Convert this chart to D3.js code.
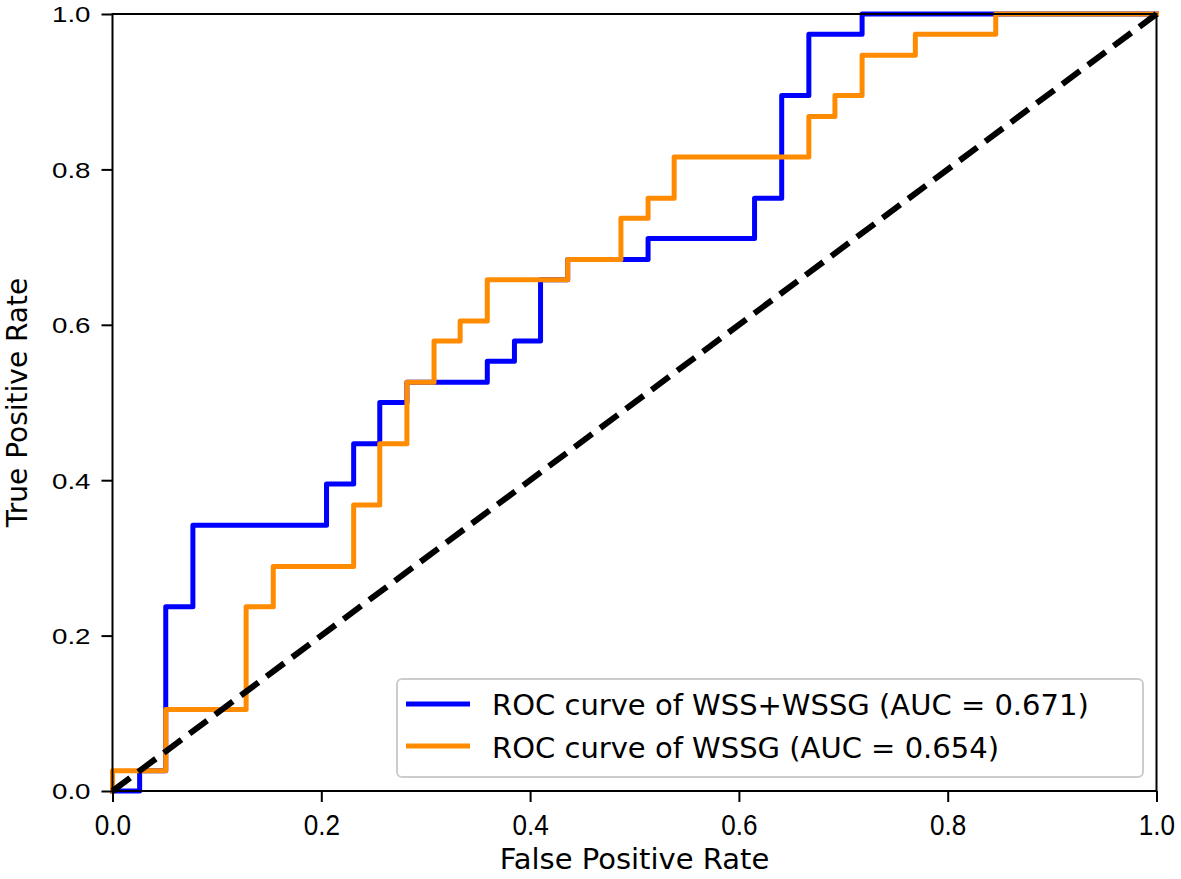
<!DOCTYPE html>
<html>
<head>
<meta charset="utf-8">
<script src="https://cdn.jsdelivr.net/npm/d3@7"></script>
<style>
  html, body { margin: 0; padding: 0; background: #fff; }
  svg { display: block; font-family: "DejaVu Sans", sans-serif; }
</style>
</head>
<body>
<svg id="chart" width="1181" height="879"></svg>
<script>
// ---- data (corner points of each ROC step curve) ----
const blueFpr = [0, 0.026, 0.026, 0.051, 0.051, 0.077, 0.077, 0.205, 0.205, 0.231, 0.231, 0.256, 0.256, 0.282, 0.282, 0.359, 0.359, 0.385, 0.385, 0.410, 0.410, 0.436, 0.436, 0.513, 0.513, 0.615, 0.615, 0.641, 0.641, 0.667, 0.667, 0.718, 0.718, 1.0];
const blueTpr = [0, 0, 0.026, 0.026, 0.237, 0.237, 0.342, 0.342, 0.395, 0.395, 0.447, 0.447, 0.500, 0.500, 0.526, 0.526, 0.553, 0.553, 0.579, 0.579, 0.658, 0.658, 0.684, 0.684, 0.711, 0.711, 0.763, 0.763, 0.895, 0.895, 0.974, 0.974, 1.0, 1.0];
const orangeFpr = [0, 0, 0.051, 0.051, 0.128, 0.128, 0.154, 0.154, 0.231, 0.231, 0.256, 0.256, 0.282, 0.282, 0.308, 0.308, 0.333, 0.333, 0.359, 0.359, 0.436, 0.436, 0.487, 0.487, 0.513, 0.513, 0.538, 0.538, 0.667, 0.667, 0.692, 0.692, 0.718, 0.718, 0.769, 0.769, 0.846, 0.846, 1.0];
const orangeTpr = [0, 0.026, 0.026, 0.105, 0.105, 0.237, 0.237, 0.289, 0.289, 0.368, 0.368, 0.447, 0.447, 0.526, 0.526, 0.579, 0.579, 0.605, 0.605, 0.658, 0.658, 0.684, 0.684, 0.737, 0.737, 0.763, 0.763, 0.816, 0.816, 0.868, 0.868, 0.895, 0.895, 0.947, 0.947, 0.974, 0.974, 1.0, 1.0];
const diagX = [0, 1];
const diagY = [0, 1];
const seriesNames = ["ROC curve of WSS+WSSG (AUC = 0.671)", "ROC curve of WSSG (AUC = 0.654)"];
const seriesColors = ["#0000ff", "#ff8c00"];
const tickValues = [0, 0.2, 0.4, 0.6, 0.8, 1.0];
const xLabel = "False Positive Rate";
const yLabel = "True Positive Rate";

// ---- layout ----
const mLeft = 112.5, mRight = 1156.5, mTop = 14, mBottom = 791;
const svg = d3.select("#chart");
const x = d3.scaleLinear().domain([0, 1]).range([mLeft, mRight]);
const y = d3.scaleLinear().domain([0, 1]).range([mBottom, mTop]);

const line = d3.line().x(d => x(d[0])).y(d => y(d[1]));
const blue = d3.zip(blueFpr, blueTpr);
const orange = d3.zip(orangeFpr, orangeTpr);

svg.append("defs").append("clipPath").attr("id", "clip")
  .append("rect").attr("x", mLeft - 4).attr("y", mTop - 4)
  .attr("width", mRight - mLeft + 8).attr("height", mBottom - mTop + 8);

const plot = svg.append("g").attr("clip-path", "url(#clip)");
plot.append("path").datum(blue).attr("d", line)
  .attr("fill", "none").attr("stroke", seriesColors[0]).attr("stroke-width", 5)
  .attr("stroke-linejoin", "round").attr("stroke-linecap", "square");
plot.append("path").datum(orange).attr("d", line)
  .attr("fill", "none").attr("stroke", seriesColors[1]).attr("stroke-width", 5)
  .attr("stroke-linejoin", "round").attr("stroke-linecap", "square");
plot.append("path").datum(d3.zip(diagX, diagY)).attr("d", line)
  .attr("fill", "none").attr("stroke", "#000").attr("stroke-width", 6)
  .attr("stroke-dasharray", "22,10");

// ---- axes ----
const xAxis = d3.axisBottom(x).tickValues(tickValues).tickFormat(d3.format(".1f"))
  .tickSize(11).tickPadding(0);
const yAxis = d3.axisLeft(y).tickValues(tickValues).tickFormat(d3.format(".1f"))
  .tickSize(11).tickPadding(0);

const gx = svg.append("g").attr("transform", `translate(0,${mBottom})`).call(xAxis);
const gy = svg.append("g").attr("transform", `translate(${mLeft},0)`).call(yAxis);
[gx, gy].forEach(g => {
  g.select(".domain").remove();
  g.selectAll(".tick line").attr("stroke", "#000").attr("stroke-width", 2);
});
gx.selectAll(".tick text")
  .attr("font-size", 29).attr("fill", "#000")
  .attr("dy", null).attr("y", 0)
  .attr("transform", "translate(0,44) scale(0.9,1)");
gy.selectAll(".tick text")
  .attr("font-size", 22).attr("fill", "#000")
  .attr("x", 0).attr("dy", "0.36em")
  .attr("transform", "translate(-22,0) scale(1.26,1)");

// frame
svg.append("rect").attr("x", mLeft).attr("y", mTop)
  .attr("width", mRight - mLeft).attr("height", mBottom - mTop)
  .attr("fill", "none").attr("stroke", "#000").attr("stroke-width", 2);

// axis labels
svg.append("text").attr("x", (mLeft + mRight) / 2).attr("y", 869)
  .attr("text-anchor", "middle").attr("font-size", 29).attr("fill", "#000")
  .text(xLabel);
svg.append("text")
  .attr("transform", `translate(27,${(mTop + mBottom) / 2}) rotate(-90)`)
  .attr("text-anchor", "middle").attr("font-size", 28).attr("fill", "#000")
  .text(yLabel);

// ---- legend ----
const lg = svg.append("g");
lg.append("rect").attr("x", 397).attr("y", 679).attr("width", 746).attr("height", 98)
  .attr("rx", 5).attr("fill", "#fff").attr("fill-opacity", 0.8)
  .attr("stroke", "#cccccc").attr("stroke-width", 2);
seriesNames.forEach((name, i) => {
  const yy = 704 + i * 42;
  lg.append("line").attr("x1", 406).attr("x2", 470).attr("y1", yy).attr("y2", yy)
    .attr("stroke", seriesColors[i]).attr("stroke-width", 5);
  lg.append("text").attr("x", 492).attr("y", 715 + i * 43)
    .attr("font-size", 29).attr("fill", "#000").text(name);
});
</script>
</body>
</html>
